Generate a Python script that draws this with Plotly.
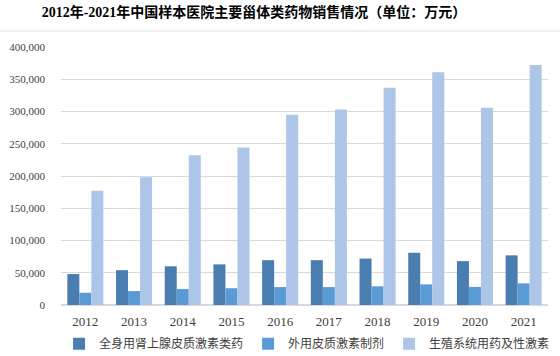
import plotly.graph_objects as go

years = ["2012", "2013", "2014", "2015", "2016", "2017", "2018", "2019", "2020", "2021"]
systemic_corticosteroids = [48000, 54000, 60000, 63000, 69500, 69500, 72000, 81000, 68000, 77000]
topical_corticosteroids = [19000, 21600, 24700, 26000, 27800, 27800, 29000, 32000, 28000, 33500]
sex_hormones = [177000, 198000, 232000, 244000, 295000, 303000, 337000, 361000, 306000, 372000]

names = ["全身用肾上腺皮质激素类药", "外用皮质激素制剂", "生殖系统用药及性激素"]
colors = ["#4A7EB0", "#5B9BD5", "#ADC5E6"]
series = [systemic_corticosteroids, topical_corticosteroids, sex_hormones]

fig = go.Figure()
for n, c, v in zip(names, colors, series):
    fig.add_trace(go.Bar(x=years, y=v, name=n, marker=dict(color=c, line=dict(width=0))))

fig.update_layout(
    width=560, height=356,
    margin=dict(l=61, r=12, t=47, b=51, autoexpand=False),
    paper_bgcolor="white", plot_bgcolor="white",
    barmode="group", bargap=0.26, bargroupgap=0,
    title=dict(text="<b>2012年-2021年中国样本医院主要甾体类药物销售情况（单位：万元）</b>",
               x=254 / 560, xanchor="center", y=1 - 12 / 356, yanchor="middle",
               font=dict(family="Liberation Serif, Noto Sans CJK SC", size=14, color="#000000")),
    showlegend=True,
    legend=dict(orientation="h", x=-0.004, xanchor="left", y=-0.094, yanchor="top",
                font=dict(family="Liberation Serif, Noto Sans CJK SC", size=12, color="#404040"),
                itemwidth=30, traceorder="normal", itemclick=False, tracegroupgap=0),
    xaxis=dict(showgrid=False, showline=False, ticks="", ticklabelstandoff=7,
               tickfont=dict(family="Liberation Serif", size=13, color="#404040")),
    yaxis=dict(range=[0, 400000], dtick=50000, tickformat=",", showgrid=True,
               gridcolor="#D9D9D9", gridwidth=1, zeroline=True, zerolinecolor="#D9D9D9",
               showline=False, ticks="", ticklabelstandoff=15,
               tickfont=dict(family="Liberation Serif", size=11, color="#404040")),
    shapes=[dict(type="line", xref="paper", yref="paper", x0=-0.2, x1=1.1, y0=1.062, y1=1.062,
                 line=dict(color="#E3E3E3", width=1))],
)

fig.write_html("out.html", config={"displayModeBar": False},
               post_script="document.body.style.margin='0';")
